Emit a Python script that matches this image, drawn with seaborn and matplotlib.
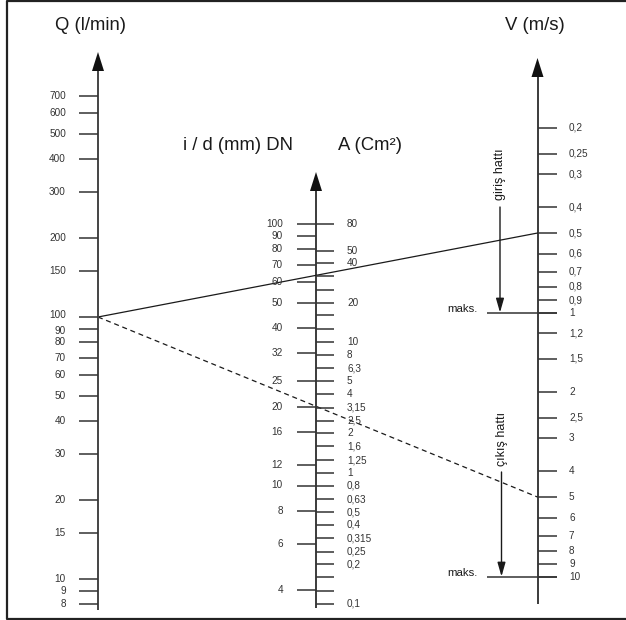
import numpy as np
import pandas as pd
import matplotlib
matplotlib.use("Agg")
import matplotlib.pyplot as plt
import seaborn as sns
from matplotlib.patches import Polygon

# ---------------- data ----------------
q_values = [700, 600, 500, 400, 300, 200, 150, 100, 90, 80, 70, 60, 50, 40, 30, 20, 15, 10, 9, 8]
dn_values = [100, 90, 80, 70, 60, 50, 40, 32, 25, 20, 16, 12, 10, 8, 6, 4]
a_values = [80, 50, 40, 32, 25, 20, 16, 12.5, 10, 8, 6.3, 5, 4, 3.15, 2.5, 2, 1.6, 1.25, 1,
            0.8, 0.63, 0.5, 0.4, 0.315, 0.25, 0.2, 0.16, 0.125, 0.1]
a_labels = ["80", "50", "40", "", "", "20", "", "", "10", "8", "6,3", "5", "4", "3,15", "2,5",
            "2", "1,6", "1,25", "1", "0,8", "0,63", "0,5", "0,4", "0,315", "0,25", "0,2", "", "", "0,1"]
v_values = [0.2, 0.25, 0.3, 0.4, 0.5, 0.6, 0.7, 0.8, 0.9, 1, 1.2, 1.5, 2, 2.5, 3, 4, 5, 6, 7, 8, 9, 10]
v_max = [1, 10]                      # "maks." limits (suction / pressure line)
v_max_names = ["giriş hattı", "çıkış hattı"]
example_q = [100, 100]
example_v = [0.5, 5]
example_style = ["solid", "dashed"]

titles = {"Q": "Q (l/min)", "DN": "i / d (mm) DN", "A": "A (Cm²)", "V": "V (m/s)"}

# ---------------- scales (logarithmic nomogram axes) ----------------
def yQ(v):
    return 317 - 262 * np.log10(np.asarray(v, float) / 100)

def yD(v):
    return 224 - 261.5 * np.log10(np.asarray(v, float) / 100)

def yA(v):
    return 224 - 130.75 * np.log10(np.asarray(v, float) / 80)

def yV(v):
    return 312.5 + 264 * np.log10(np.asarray(v, float))

def fmt(v):
    s = ("%g" % v)
    return s.replace(".", ",")

# ---------------- figure ----------------
sns.set_theme(style="white")
plt.rcParams["font.family"] = ["Liberation Sans", "DejaVu Sans"]

fig = plt.figure(figsize=(6.26, 6.2), dpi=100)
ax = fig.add_axes([0, 0, 1, 1])

ink = "#1a1a1a"
lab = "#333333"
tick_fs = 7.2

# example reading lines (Q -> V)
XQ, XM, XV = 98, 316, 537.5
rows = []
for q, v, st in zip(example_q, example_v, example_style):
    rows.append({"x": XQ, "y": float(yQ(q)), "line": st})
    rows.append({"x": XV, "y": float(yV(v)), "line": st})
df = pd.DataFrame(rows)
sns.lineplot(data=df, x="x", y="y", style="line", units="line", estimator=None,
             dashes={"solid": "", "dashed": (4, 3)}, color=ink, lw=0.9,
             legend=False, ax=ax, sort=False)

ax.set_xlim(0, 626)
ax.set_ylim(620, 0)
ax.axis("off")

# frame
ax.plot([640, 6.5, 6.5, 640], [1, 1, 619, 619], color="#222222", lw=1.6, clip_on=False)

def axis_arrow(x, top_tip, bottom, color=ink, lw=1.2):
    base = top_tip + 19
    ax.plot([x, x], [bottom, base], color=color, lw=lw, solid_capstyle="butt")
    ax.add_patch(Polygon([[x - 6, base], [x + 6, base], [x, top_tip]], closed=True,
                         facecolor="#111111", edgecolor="none"))

axis_arrow(XQ, 52, 610, color="#444444", lw=1.4)
axis_arrow(XM, 172, 608)
axis_arrow(XV, 58, 603.5)

# Q ticks
ax.hlines(yQ(q_values), XQ - 19, XQ, color=lab, lw=1.1)
for v in q_values:
    dy = -2 if v == 100 else (2 if v == 90 else 0)
    ax.text(66, yQ(v) + dy, fmt(v), ha="right", va="center", fontsize=tick_fs, color=lab)

# DN ticks (left of middle axis)
ax.hlines(yD(dn_values), XM - 19, XM, color=lab, lw=1.1)
for v in dn_values:
    ax.text(283, yD(v), fmt(v), ha="right", va="center", fontsize=tick_fs, color=lab)

# A ticks (right of middle axis)
ax.hlines(yA(a_values), XM, XM + 18, color=lab, lw=1.1)
for v, t in zip(a_values, a_labels):
    if t:
        ax.text(347, yA(v), t, ha="left", va="center", fontsize=tick_fs, color=lab)

# V ticks
ax.hlines(yV(v_values), XV, XV + 19, color=lab, lw=1.1)
for v in v_values:
    ax.text(569, yV(v), fmt(v), ha="left", va="center", fontsize=tick_fs, color=lab)

# maks. lines and arrows
xarr = [500, 501.5]
arrow_top = [207, 472]
text_y = [174, 439]
for vm, name, xa, at, ty in zip(v_max, v_max_names, xarr, arrow_top, text_y):
    y = float(yV(vm))
    ax.hlines(y, 487, XV + 19, color=lab, lw=1.1)
    ax.text(478, y - 1, "maks.", ha="right", va="baseline", fontsize=8.2, color=ink)
    ax.annotate("", xy=(xa, y), xytext=(xa, at),
                arrowprops=dict(arrowstyle="-|>,head_length=0.7,head_width=0.2",
                                color=ink, lw=1.0, shrinkA=0, shrinkB=0))
    ax.text(xa, ty, name, rotation=90, ha="center", va="center", fontsize=9, color=ink)

# titles
ax.text(55, 25, titles["Q"], ha="left", va="center", fontsize=13.3, color=ink)
ax.text(505, 25, titles["V"], ha="left", va="center", fontsize=13.3, color=ink)
ax.text(183, 145, titles["DN"], ha="left", va="center", fontsize=13.3, color=ink)
ax.text(338, 145, titles["A"], ha="left", va="center", fontsize=13.3, color=ink)

fig.savefig("out.png", dpi=100)
